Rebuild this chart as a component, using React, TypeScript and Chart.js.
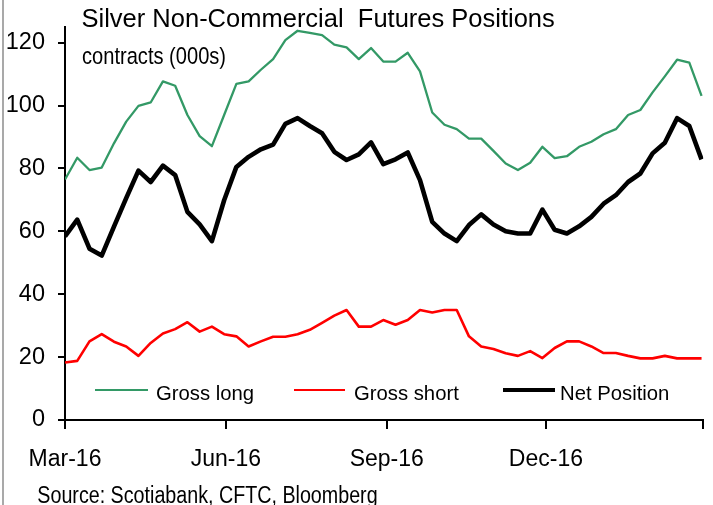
import React, { useEffect, useRef } from 'react';
import { Chart, registerables } from 'chart.js';

Chart.register(...registerables);

// Weekly observation dates (categories)
const weekDates = [
  '2016-03-01', '2016-03-08', '2016-03-15', '2016-03-22', '2016-03-29',
  '2016-04-05', '2016-04-12', '2016-04-19', '2016-04-26',
  '2016-05-03', '2016-05-10', '2016-05-17', '2016-05-24', '2016-05-31',
  '2016-06-07', '2016-06-14', '2016-06-21', '2016-06-28',
  '2016-07-05', '2016-07-12', '2016-07-19', '2016-07-26',
  '2016-08-02', '2016-08-09', '2016-08-16', '2016-08-23', '2016-08-30',
  '2016-09-06', '2016-09-13', '2016-09-20', '2016-09-27',
  '2016-10-04', '2016-10-11', '2016-10-18', '2016-10-25',
  '2016-11-01', '2016-11-08', '2016-11-15', '2016-11-22', '2016-11-29',
  '2016-12-06', '2016-12-13', '2016-12-20', '2016-12-27',
  '2017-01-03', '2017-01-10', '2017-01-17', '2017-01-24', '2017-01-31',
  '2017-02-07', '2017-02-14', '2017-02-21', '2017-02-28',
];

const grossLong = [
  76.5, 83.4, 79.5, 80.3, 88.0, 94.9, 99.9, 101.0, 107.7, 106.3,
  97.0, 90.3, 87.1, 97.0, 106.9, 107.7, 111.4, 114.8, 120.8, 123.8,
  123.1, 122.4, 119.4, 118.5, 114.8, 118.3, 114.0, 114.0, 116.8, 110.9,
  97.8, 93.9, 92.5, 89.5, 89.5, 85.6, 81.6, 79.5, 81.8, 86.9,
  83.3, 83.9, 86.9, 88.5, 90.9, 92.5, 97.0, 98.6, 104.2, 109.3,
  114.6, 113.7, 103.1,
];

const grossShort = [
  18.3, 18.8, 25.0, 27.3, 24.9, 23.4, 20.4, 24.5, 27.5, 28.9,
  31.1, 28.1, 29.7, 27.3, 26.6, 23.4, 25.0, 26.5, 26.5, 27.3,
  28.7, 30.9, 33.2, 35.0, 29.7, 29.7, 31.8, 30.3, 31.8, 35.0,
  34.2, 35.0, 35.0, 26.6, 23.4, 22.6, 21.2, 20.4, 21.9, 19.7,
  22.9, 25.0, 25.0, 23.4, 21.3, 21.3, 20.4, 19.6, 19.6, 20.4,
  19.6, 19.6, 19.6,
];

const netPosition = [
  58.4, 63.7, 54.5, 52.3, 61.5, 70.6, 79.3, 75.7, 80.9, 77.9,
  66.2, 62.2, 56.9, 69.9, 80.5, 83.7, 86.1, 87.6, 94.2, 96.0,
  93.5, 91.2, 85.3, 82.7, 84.5, 88.3, 81.4, 82.9, 85.1, 76.3,
  63.0, 59.3, 56.9, 62.0, 65.4, 62.2, 60.0, 59.3, 59.3, 66.9,
  60.5, 59.3, 61.6, 64.6, 68.8, 71.5, 75.7, 78.4, 84.8, 88.2,
  96.0, 93.5, 82.9,
];

const tickDates = ['2016-03-01', '2016-06-01', '2016-09-01', '2016-12-01', '2017-03-01'];
const tickLabels = ['Mar-16', 'Jun-16', 'Sep-16', 'Dec-16', ''];
const yTicks = [0, 20, 40, 60, 80, 100, 120];

const seriesNames = ['Gross long', 'Gross short', 'Net Position'];
const seriesColors = ['#339966', '#ff0000', '#000000'];
const seriesWidths = [2.3, 2.6, 4.6];

const titleText = 'Silver Non-Commercial  Futures Positions';
const subtitleText = 'contracts (000s)';
const sourceText = 'Source: Scotiabank, CFTC, Bloomberg';

const DAY_MS = 86400000;
const origin = Date.parse(weekDates[0]);
const toDay = (s: string) => (Date.parse(s) - origin) / DAY_MS;

const FONT = "'Liberation Sans', Arial, sans-serif";

export default function App() {
  const canvasRef = useRef<HTMLCanvasElement | null>(null);

  useEffect(() => {
    if (!canvasRef.current) return;
    const series = [grossLong, grossShort, netPosition];
    const chart = new Chart(canvasRef.current, {
      type: 'line',
      data: {
        datasets: series.map((vals, k) => ({
          label: seriesNames[k],
          data: weekDates.map((d, i) => ({ x: toDay(d), y: vals[i] })),
          borderColor: seriesColors[k],
          backgroundColor: seriesColors[k],
          borderWidth: seriesWidths[k],
          pointRadius: 0,
          tension: 0,
          fill: false,
          borderJoinStyle: 'round' as const,
        })),
      },
      options: {
        animation: false,
        responsive: false,
        events: [],
        layout: { padding: { top: 27, right: 9.7, bottom: 0, left: 0 } },
        plugins: { legend: { display: false }, tooltip: { enabled: false } },
        scales: {
          x: {
            type: 'linear',
            min: 0,
            max: toDay(tickDates[tickDates.length - 1]),
            afterBuildTicks: (s: any) => {
              s.ticks = tickDates.map((d) => ({ value: toDay(d) }));
            },
            afterFit: (s: any) => {
              s.height = 85;
              s.paddingLeft = 0;
              s.paddingRight = 0;
            },
            ticks: {
              autoSkip: false,
              maxRotation: 0,
              padding: 17,
              color: '#000',
              font: { family: FONT, size: 23 },
              callback: (_v: any, i: number) => tickLabels[i],
            },
            grid: { drawOnChartArea: false, drawTicks: true, tickLength: 9, color: '#000', lineWidth: 2 },
            border: { display: true, color: '#000', width: 2 },
          },
          y: {
            min: 0,
            max: 125,
            afterBuildTicks: (s: any) => {
              s.ticks = yTicks.map((v) => ({ value: v }));
            },
            afterFit: (s: any) => {
              s.width = 65;
              s.paddingTop = 0;
              s.paddingBottom = 0;
            },
            ticks: {
              padding: 13,
              color: '#000',
              font: { family: "'Liberation Sans Narrow', 'Liberation Sans', sans-serif", size: 23.5 },
              callback: (v: any) => String(v),
            },
            grid: { drawOnChartArea: false, drawTicks: true, tickLength: 7, color: '#000', lineWidth: 2 },
            border: { display: true, color: '#000', width: 2 },
          },
        },
      },
    });
    return () => chart.destroy();
  }, []);

  const textBase: React.CSSProperties = {
    position: 'absolute',
    fontFamily: FONT,
    color: '#000',
    whiteSpace: 'pre',
    lineHeight: 1,
    transformOrigin: 'top left',
    margin: 0,
  };

  const legendLefts = [95, 294, 503];
  const legendLineWidths = [53, 51, 52];
  const legendTextLefts = [156, 354, 560];

  return (
    <div
      style={{
        position: 'absolute',
        left: 0,
        top: 0,
        width: 713,
        height: 505,
        background: '#fff',
        overflow: 'hidden',
      }}
    >
      <canvas ref={canvasRef} width={713} height={505} style={{ position: 'absolute', left: 0, top: 0 }} />
      <div style={{ position: 'absolute', left: 2, top: 0, width: 2, height: 505, background: '#a9a9a9' }} />
      <div style={{ ...textBase, left: 81.5, top: 6, fontSize: 25.5 }}>{titleText}</div>
      <div style={{ ...textBase, left: 82, top: 43.6, fontSize: 20.1, transform: 'scale(1, 1.16)' }}>{subtitleText}</div>
      <div style={{ ...textBase, left: 37.3, top: 483.6, fontSize: 19.7, transform: 'scale(1, 1.18)' }}>{sourceText}</div>
      {seriesNames.map((name, k) => (
        <React.Fragment key={name}>
          <div
            style={{
              position: 'absolute',
              left: legendLefts[k],
              top: 390 - seriesWidths[k] / 2,
              width: legendLineWidths[k],
              height: seriesWidths[k],
              background: seriesColors[k],
            }}
          />
          <div style={{ ...textBase, left: legendTextLefts[k], top: 383, fontSize: 20.3 }}>{name}</div>
        </React.Fragment>
      ))}
    </div>
  );
}
